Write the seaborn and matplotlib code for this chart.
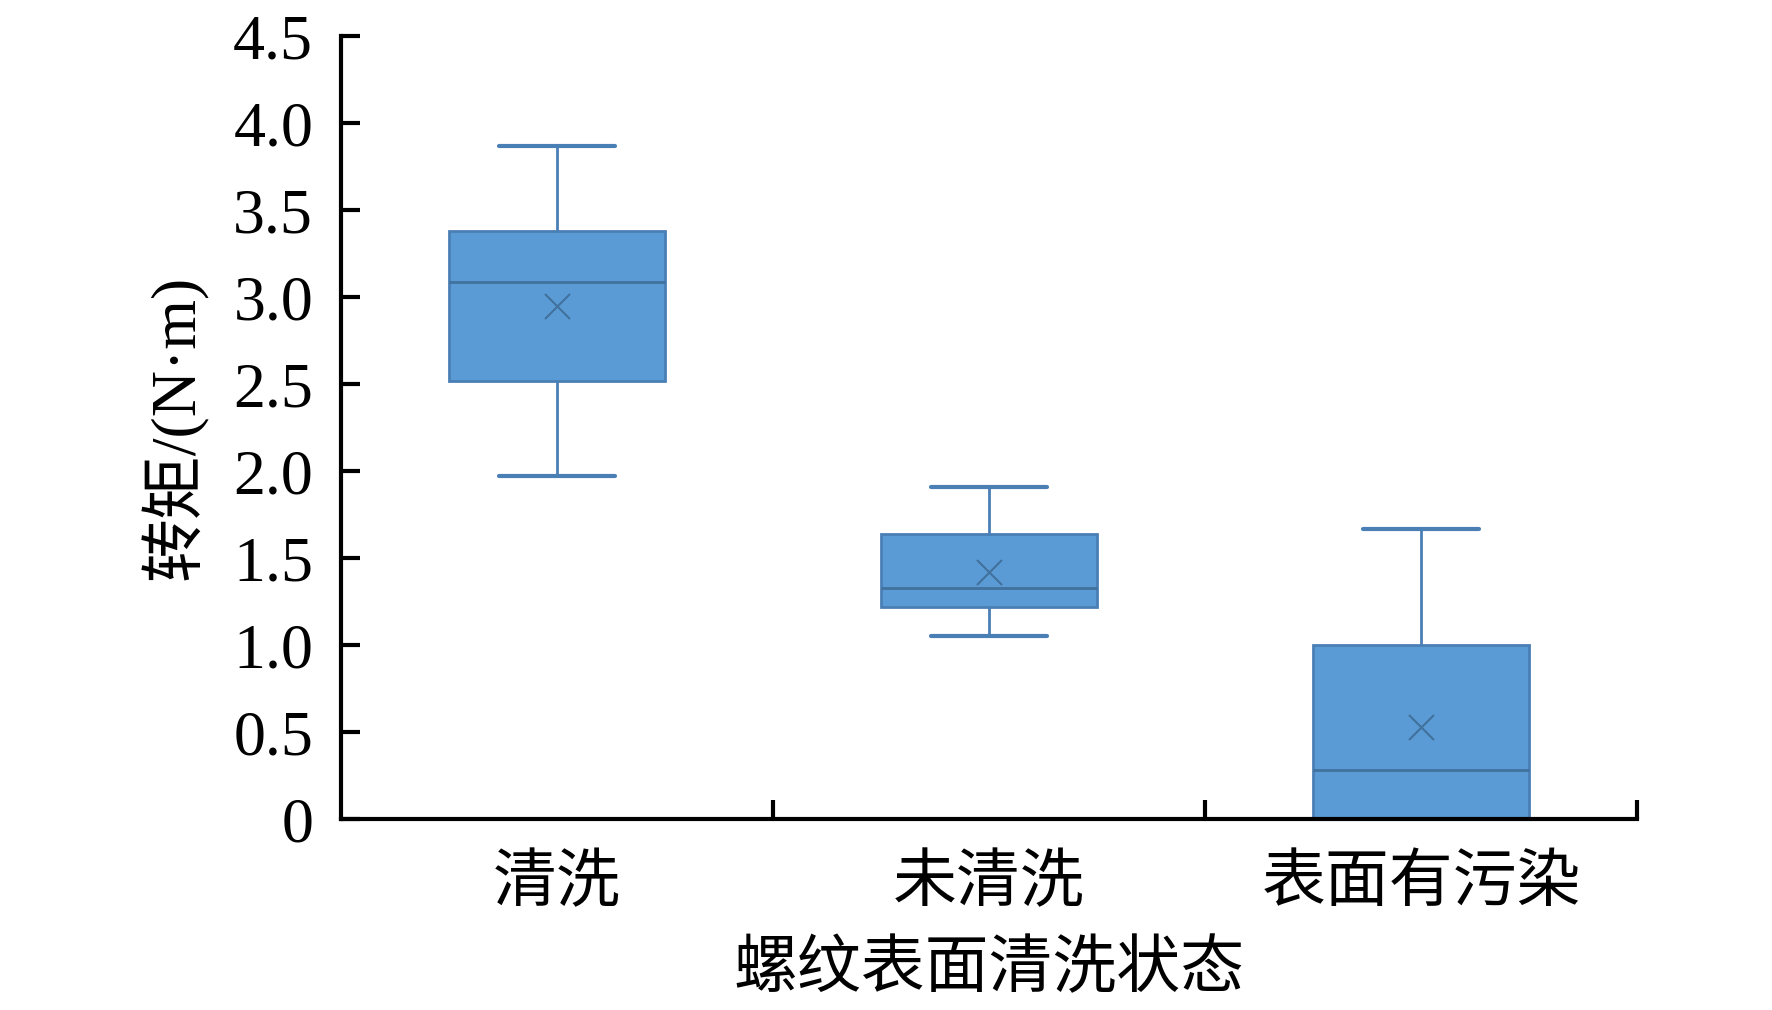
import numpy as np
import matplotlib
matplotlib.use("Agg")
import matplotlib.pyplot as plt
import seaborn as sns

# values
groups = ["清洗", "未清洗", "表面有污染"]
whisker_low = [1.97, 1.05, 0.0]
q1 = [2.52, 1.22, 0.0]
median = [3.09, 1.33, 0.28]
q3 = [3.38, 1.64, 1.00]
whisker_high = [3.87, 1.91, 1.67]
mean = [2.95, 1.42, 0.53]

yticks = [0, 0.5, 1.0, 1.5, 2.0, 2.5, 3.0, 3.5, 4.0, 4.5]
ytick_labels = ["0", "0.5", "1.0", "1.5", "2.0", "2.5", "3.0", "3.5", "4.0", "4.5"]

sns.set_theme(style="white")
plt.rcParams['font.family'] = ['Liberation Serif', 'Noto Sans CJK SC', 'DejaVu Sans']
plt.rcParams['text.color'] = 'black'
plt.rcParams['xtick.color'] = 'black'
plt.rcParams['ytick.color'] = 'black'
plt.rcParams['axes.labelcolor'] = 'black'

fill = "#5B9BD5"
edge = "#4A7FB5"

fig = plt.figure(figsize=(17.72, 10.10), dpi=100)
ax = fig.add_axes([0.1924, 0.189, 0.7315, 0.775])

stats = []
for i, g in enumerate(groups):
    stats.append(dict(label=g, whislo=whisker_low[i], q1=q1[i], med=median[i],
                      q3=q3[i], whishi=whisker_high[i], mean=mean[i], fliers=[]))

ax.bxp(stats, positions=range(len(groups)), widths=0.5, capwidths=0.27,
       showmeans=True, patch_artist=True, manage_ticks=False,
       boxprops=dict(facecolor=fill, edgecolor=edge, linewidth=2),
       medianprops=dict(color="#41719C", linewidth=2),
       whiskerprops=dict(color=edge, linewidth=2),
       capprops=dict(color=edge, linewidth=3),
       meanprops=dict(marker="x", markeredgecolor="#41719C", markersize=18,
                      markeredgewidth=1.5))

ax.set_xlim(-0.5, 2.5)
ax.set_ylim(0, 4.5)
ax.set_yticks(yticks)
ax.set_yticklabels(ytick_labels, fontsize=46, family='Liberation Serif')

# category boundaries get the tick marks, names sit in between
ax.set_xticks([0.5, 1.5, 2.5])
ax.set_xticklabels([])
ax.set_xticks(range(len(groups)), minor=True)
ax.set_xticklabels(groups, minor=True, fontsize=46, family='Noto Sans CJK SC')
ax.tick_params(axis='x', which='minor', bottom=True, length=0, pad=22)
ax.tick_params(axis='x', which='major', bottom=True, direction='in', length=14, width=3, color='black')
ax.tick_params(axis='y', left=True, direction='in', length=14, width=3, color='black', pad=20)

for s in ["top", "right"]:
    ax.spines[s].set_visible(False)
for s in ["left", "bottom"]:
    ax.spines[s].set_color("black")
    ax.spines[s].set_linewidth(3)

ax.set_ylabel("转矩/(N·m)", fontsize=46, family=['Liberation Serif', 'Noto Sans CJK SC'], labelpad=18)
ax.set_xlabel("螺纹表面清洗状态", fontsize=46, family='Noto Sans CJK SC', labelpad=14)

fig.savefig("out.png", dpi=100, facecolor="white")
